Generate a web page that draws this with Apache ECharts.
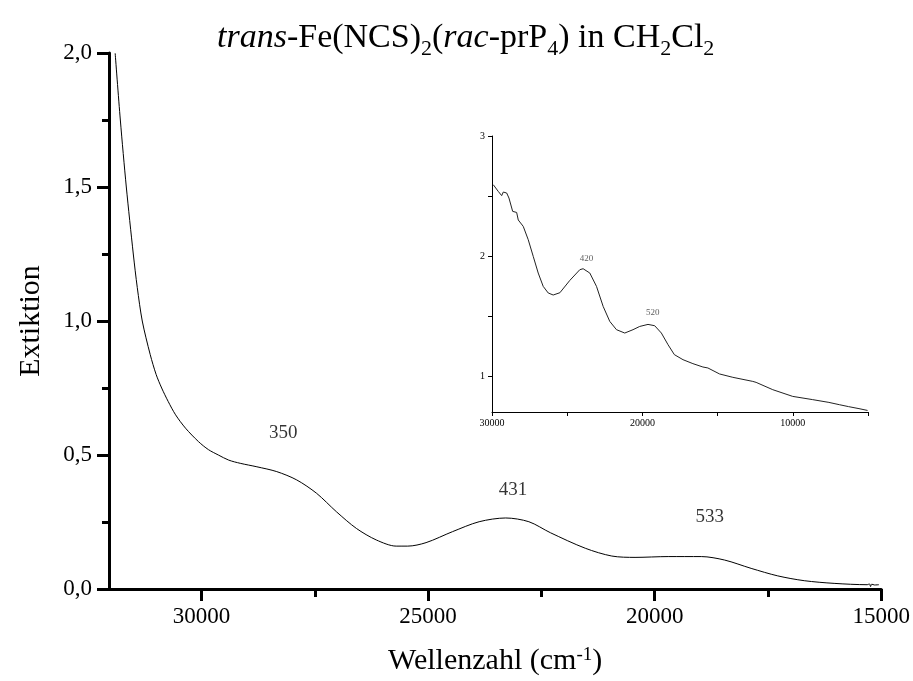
<!DOCTYPE html>
<html>
<head>
<meta charset="utf-8">
<script src="https://cdn.jsdelivr.net/npm/echarts@6/dist/echarts.min.js"></script>
<style>
html,body{margin:0;padding:0;background:#fff;}
#chart{width:913px;height:681px;}
</style>
</head>
<body>
<div id="chart"></div>
<script>
// ---- main spectrum (Wellenzahl cm^-1, Extinktion) ----
const mainWavenumber = [31904,31790,31658,31504,31416,31306,31131,30999,30878,30735,30571,30351,30066,29846,29627,29400,29144,28777,28338,27898,27459,27020,26581,26142,25703,25448,25044,24460,23873,23287,22775,22300,21530,20946,20433,19701,18970,18456,17871,17285,16699,16040,15309,15260,15236,15210,15150,15052];
const mainExtinction = [1.999,1.750,1.500,1.250,1.125,1.000,0.875,0.800,0.750,0.700,0.650,0.600,0.550,0.520,0.500,0.481,0.469,0.456,0.438,0.407,0.357,0.288,0.226,0.183,0.160,0.160,0.173,0.214,0.251,0.265,0.251,0.210,0.152,0.123,0.118,0.121,0.121,0.108,0.077,0.049,0.031,0.021,0.016,0.019,0.009,0.018,0.015,0.016];

// ---- inset spectrum ----
const insetWavenumber = [29914,29801,29582,29356,29248,29024,28872,28760,28626,28361,28253,27923,27591,27259,26927,26596,26264,25932,25487,24824,24160,23942,23497,23052,22610,22169,21724,21173,20623,20179,19627,19183,18739,18296,17876,17301,16642,15978,15646,14870,13988,12660,12440,11333,10006,8678,7600,6907,6300,5600,5030];
const insetExtinction = [2.594,2.580,2.538,2.503,2.533,2.525,2.483,2.490,2.372,2.363,2.300,2.247,2.136,1.997,1.858,1.747,1.692,1.675,1.694,1.797,1.886,1.894,1.858,1.747,1.580,1.455,1.386,1.358,1.386,1.413,1.430,1.419,1.358,1.261,1.178,1.136,1.103,1.075,1.067,1.017,0.989,0.955,0.947,0.886,0.830,0.803,0.780,0.761,0.745,0.728,0.713];

// ---- peak annotations (nm) ----
const mainPeakLabels = ['350','431','533'];
const mainPeakX = [28193,23127,18785];
const mainPeakY = [0.581,0.369,0.268];
const insetPeakLabels = ['420','520'];
const insetPeakX = [23716,19316];
const insetPeakY = [1.98,1.53];

// ---- ticks ----
const mainXTicks = [15000,20000,25000,30000];
const mainXMinorTicks = [17500,22500,27500];
const insetXTicks = [5000,10000,15000,20000,25000,30000];
const insetXLabels = [10000,20000,30000];
const insetYTicks = [1,1.5,2,2.5,3];
const insetYLabels = [1,2,3];

const FONT = '"Liberation Serif","Times New Roman",serif';
const mainData = mainWavenumber.map((v,i)=>[v, mainExtinction[i]]);
const insetData = insetWavenumber.map((v,i)=>[v, insetExtinction[i]]);
const mainPeaks = mainPeakLabels.map((t,i)=>[mainPeakX[i], mainPeakY[i], t]);
const insetPeaks = insetPeakLabels.map((t,i)=>[insetPeakX[i], insetPeakY[i], t]);

const chart = echarts.init(document.getElementById('chart'), null, {renderer:'canvas'});
const option = {
  animation: false,
  backgroundColor: '#fff',
  title: {
    left: 212, top: 16,
    text: '{i|trans}{n|-Fe(NCS)}{s|2}{n|(}{i|rac}{n|-prP}{s|4}{n|) in CH}{s|2}{n|Cl}{s|2}',
    textStyle: {
      fontWeight: 'normal',
      rich: {
        n: {fontFamily: FONT, fontSize: 34, fontWeight: 'normal', color: '#000', verticalAlign: 'top', padding: [0,0,5,0]},
        i: {fontFamily: FONT, fontSize: 34, fontWeight: 'normal', fontStyle: 'italic', color: '#000', verticalAlign: 'top', padding: [0,0,5,0]},
        s: {fontFamily: FONT, fontSize: 22, fontWeight: 'normal', color: '#000', verticalAlign: 'bottom'}
      }
    }
  },
  grid: [
    {left: 109, right: 29, top: 53, bottom: 92, containLabel: false},
    {left: 492, right: 45, top: 136, bottom: 269, containLabel: false}
  ],
  xAxis: [
    {
      gridIndex: 0, type: 'value', inverse: true, min: 15000, max: 32040, position: 'bottom',
      name: '{n|Wellenzahl (cm}{sup|-1}{n|)}', nameLocation: 'middle', nameGap: 57,
      nameTextStyle: {rich: {
        n: {fontFamily: FONT, fontSize: 30, color: '#000'},
        sup: {fontFamily: FONT, fontSize: 19, color: '#000', verticalAlign: 'top'}
      }},
      axisLine: {show: true, onZero: false, lineStyle: {color: '#000', width: 3}},
      axisTick: {show: true, length: 12, lineStyle: {color: '#000', width: 3}, customValues: mainXTicks},
      axisLabel: {show: true, fontFamily: FONT, fontSize: 23, color: '#000', margin: 16, customValues: mainXTicks,
        formatter: v => String(v)},
      splitLine: {show: false}
    },
    {
      gridIndex: 0, type: 'value', inverse: true, min: 15000, max: 32040, position: 'bottom',
      axisLine: {show: false},
      axisTick: {show: true, length: 8, lineStyle: {color: '#000', width: 3}, customValues: mainXMinorTicks},
      axisLabel: {show: false},
      splitLine: {show: false}
    },
    {
      gridIndex: 1, type: 'value', inverse: true, min: 5000, max: 30000, position: 'bottom',
      axisLine: {show: true, onZero: false, lineStyle: {color: '#000', width: 1}},
      axisTick: {show: true, length: 4, lineStyle: {color: '#000', width: 1}, customValues: insetXTicks},
      axisLabel: {show: true, fontFamily: FONT, fontSize: 10, color: '#000', margin: 6, customValues: insetXLabels,
        formatter: v => String(v)},
      splitLine: {show: false}
    }
  ],
  yAxis: [
    {
      gridIndex: 0, type: 'value', min: 0, max: 2, interval: 0.5,
      name: 'Extiktion', nameLocation: 'middle', nameGap: 63, nameRotate: 90,
      nameTextStyle: {fontFamily: FONT, fontSize: 30, color: '#000'},
      axisLine: {show: true, onZero: false, lineStyle: {color: '#000', width: 3}},
      axisTick: {show: true, length: 12, lineStyle: {color: '#000', width: 3}},
      minorTick: {show: true, splitNumber: 2, length: 7, lineStyle: {color: '#000', width: 3}},
      axisLabel: {fontFamily: FONT, fontSize: 23, color: '#000', margin: 17,
        formatter: v => v.toFixed(1).replace('.', ',')},
      splitLine: {show: false}, minorSplitLine: {show: false}
    },
    {
      gridIndex: 1, type: 'value', min: 0.7, max: 3,
      axisLine: {show: true, onZero: false, lineStyle: {color: '#000', width: 1}},
      axisTick: {show: true, length: 4, lineStyle: {color: '#000', width: 1}, customValues: insetYTicks},
      axisLabel: {fontFamily: FONT, fontSize: 10, color: '#000', margin: 7, customValues: insetYLabels,
        formatter: v => String(v)},
      splitLine: {show: false}
    }
  ],
  series: [
    {
      type: 'line', xAxisIndex: 0, yAxisIndex: 0, data: mainData, showSymbol: false, symbol: 'none',
      smooth: 0.3, clip: true, lineStyle: {color: '#000', width: 1}
    },
    {
      type: 'scatter', xAxisIndex: 0, yAxisIndex: 0, data: mainPeaks, symbolSize: 1,
      itemStyle: {color: 'rgba(0,0,0,0)'},
      label: {show: true, position: 'inside', fontFamily: FONT, fontSize: 19, color: '#000',
        formatter: p => p.value[2]}
    },
    {
      type: 'line', xAxisIndex: 2, yAxisIndex: 1, data: insetData, showSymbol: false, symbol: 'none',
      smooth: false, clip: true, lineStyle: {color: '#222', width: 1}
    },
    {
      type: 'scatter', xAxisIndex: 2, yAxisIndex: 1, data: insetPeaks, symbolSize: 1,
      itemStyle: {color: 'rgba(0,0,0,0)'},
      label: {show: true, position: 'inside', fontFamily: FONT, fontSize: 9, color: '#333',
        formatter: p => p.value[2]}
    }
  ]
};
chart.setOption(option);
</script>
</body>
</html>
